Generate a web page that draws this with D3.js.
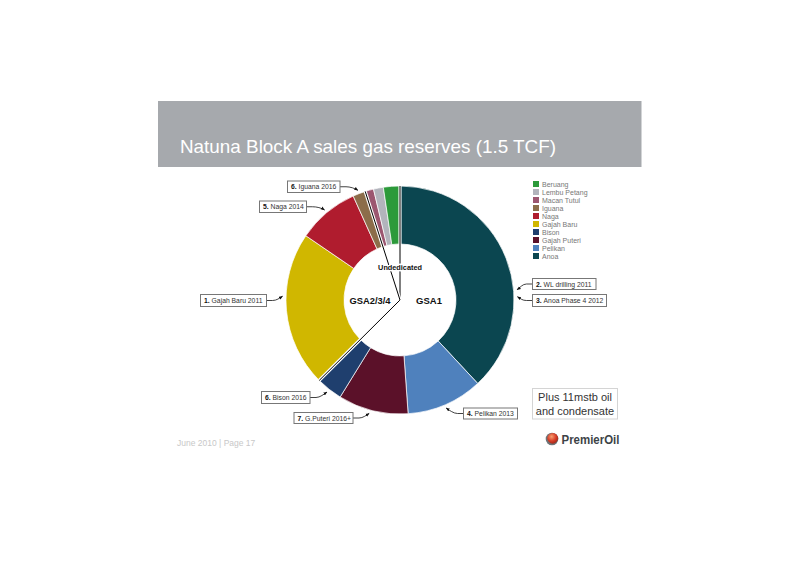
<!DOCTYPE html>
<html><head><meta charset="utf-8">
<script src="https://cdn.jsdelivr.net/npm/d3@7"></script>
<style>body{margin:0;background:#fff;}svg{display:block;font-family:Arial,"Liberation Sans",sans-serif;}</style>
</head><body>
<svg id="c" width="800" height="565"></svg>
<script>
// ---- data (bcf; total ≈ 1.5 TCF) ----
const fields = ["Anoa","Pelikan","Gajah Puteri","Bison","Gajah Baru","Naga","Iguana","Macan Tutul","Lembu Petang","Beruang"];
const reserves = [571, 162, 149, 56, 330, 131, 27, 18, 21, 35];
const fieldColors = ["#0b4650","#4f81bd","#5b1129","#1f3f6e","#d0b700","#b01c2e","#8c6d4a","#9c5670","#b2b4bc","#2c9a3a"];
const legendOrder = ["Beruang","Lembu Petang","Macan Tutul","Iguana","Naga","Gajah Baru","Bison","Gajah Puteri","Pelikan","Anoa"];
// contract groups: boundary after which field
const groupEnds = ["Bison","Iguana"];   // GSA1 ends after Bison, GSA2/3/4 after Iguana
// callouts: number, text, field, fraction along slice
const calloutNums = ["1.","2.","3.","4.","5.","6.","6.","7."];
const calloutTexts = ["Gajah Baru 2011","WL drilling 2011","Anoa Phase 4 2012","Pelikan 2013","Naga 2014","Iguana 2016","Bison 2016","G.Puteri 2016+"];
const calloutFields = ["Gajah Baru","Anoa","Anoa","Pelikan","Naga","Iguana","Bison","Gajah Puteri"];
const calloutFrac = [0.59,0.62,0.645,0.51,0.5,0.5,0.5,0.54];

// ---- layout ----
const svg = d3.select("#c");
const cx = 400, cy = 300, rOut = 114, rIn = 56;
// callout boxes: [x, y, w, h, side] side: 'r' = arrow leaves right edge, 'l' = left edge
const boxes = [
  [200.5,294.5,66,12,'r'],
  [532.5,278.5,63.5,11,'l'],
  [532.5,294.5,74,12,'l'],
  [463.5,408,54,11,'l'],
  [259.5,201,47,11.5,'r'],
  [287.5,181,52.5,11.5,'r'],
  [261.5,391.5,48.5,12,'r'],
  [294,412.5,59,11,'r']
];

// title band
svg.append("rect").attr("x",158).attr("y",101).attr("width",483.5).attr("height",66).attr("fill","#a6a9ad");
svg.append("text").attr("x",180).attr("y",152.5).attr("fill","#fff").attr("font-size",19)
  .attr("textLength",376).attr("lengthAdjust","spacingAndGlyphs")
  .text("Natuna Block A sales gas reserves (1.5 TCF)");

// donut
const color = d3.scaleOrdinal().domain(fields).range(fieldColors);
const data = fields.map((f,i)=>({field:f, value:reserves[i]}));
const pie = d3.pie().value(d=>d.value).sort(null);
const arcs = pie(data);
const arc = d3.arc().innerRadius(rIn).outerRadius(rOut);
const g = svg.append("g").attr("transform",`translate(${cx},${cy})`);
g.selectAll("path.slice").data(arcs).join("path").attr("class","slice")
  .attr("d",arc).attr("fill",d=>color(d.data.field))
  .attr("stroke","#fff").attr("stroke-width",0.7);

// group divider lines
const divAngles = [0].concat(groupEnds.map(f=>arcs.find(a=>a.data.field===f).endAngle));
const pt = (a,r)=>[Math.sin(a)*r, -Math.cos(a)*r];
divAngles.forEach(a=>{
  const [x2,y2] = pt(a,rOut);
  g.append("line").attr("x1",0).attr("y1",0).attr("x2",x2).attr("y2",y2).attr("stroke","#fff").attr("stroke-width",3.2);
  g.append("line").attr("x1",0).attr("y1",0).attr("x2",x2).attr("y2",y2).attr("stroke","#000").attr("stroke-width",1);
});

// hole labels
g.append("text").attr("x",0).attr("y",-30).attr("text-anchor","middle").attr("font-size",7.3).attr("font-weight","bold").attr("fill","#111")
  .attr("stroke","#fff").attr("stroke-width",2.5).attr("paint-order","stroke").text("Undedicated");
g.append("text").attr("x",-30).attr("y",3.5).attr("text-anchor","middle").attr("font-size",9.5).attr("font-weight","bold").attr("fill","#111")
  .attr("textLength",41).attr("lengthAdjust","spacingAndGlyphs").text("GSA2/3/4");
g.append("text").attr("x",29).attr("y",3.5).attr("text-anchor","middle").attr("font-size",9.5).attr("font-weight","bold").attr("fill","#111").text("GSA1");

// arrow marker
svg.append("defs").append("marker").attr("id","ah").attr("viewBox","0 0 10 10").attr("refX",9).attr("refY",5)
  .attr("markerWidth",5).attr("markerHeight",5).attr("orient","auto")
  .append("path").attr("d","M0,1 L10,5 L0,9 Z").attr("fill","#111");

// callouts
calloutTexts.forEach((t,i)=>{
  const a = arcs.find(d=>d.data.field===calloutFields[i]);
  const ang = a.startAngle + (a.endAngle-a.startAngle)*calloutFrac[i];
  const [tx,ty] = pt(ang, rOut+3.5);
  const tipX = cx+tx, tipY = cy+ty;
  const [bx,by,bw,bh,side] = boxes[i];
  const sx = side==='r' ? bx+bw : bx, sy = by+bh/2;
  const dir = side==='r' ? 1 : -1;
  const p = d3.path();
  p.moveTo(sx,sy);
  p.lineTo(sx+dir*6,sy);
  p.bezierCurveTo(sx+dir*10,sy,tipX-dir*3,tipY+ (tipY>sy?-2:2),tipX,tipY);
  svg.append("path").attr("d",p.toString()).attr("fill","none").attr("stroke","#111").attr("stroke-width",0.8).attr("marker-end","url(#ah)");
  svg.append("rect").attr("x",bx).attr("y",by).attr("width",bw).attr("height",bh).attr("fill","#fff").attr("stroke","#777").attr("stroke-width",1);
  const tt = svg.append("text").attr("x",bx+3.5).attr("y",by+bh/2+2.5).attr("font-size",6.8).attr("fill","#333");
  tt.append("tspan").attr("font-weight","bold").attr("fill","#111").text(calloutNums[i]+" ");
  tt.append("tspan").text(t);
});

// legend
const lg = svg.append("g").attr("transform","translate(533,181)");
legendOrder.forEach((f,i)=>{
  lg.append("rect").attr("x",0).attr("y",i*8).attr("width",6).attr("height",6).attr("fill",color(f));
  lg.append("text").attr("x",9).attr("y",i*8+5.5).attr("font-size",7).attr("fill","#777").text(f);
});

// note box
svg.append("rect").attr("x",532.5).attr("y",388.5).attr("width",85).attr("height",30.5).attr("fill","#fff").attr("stroke","#d4d4d4");
svg.append("text").attr("x",575).attr("y",401).attr("text-anchor","middle").attr("font-size",11).attr("fill","#333").text("Plus 11mstb oil");
svg.append("text").attr("x",575).attr("y",414.5).attr("text-anchor","middle").attr("font-size",11).attr("fill","#333").text("and condensate");

// footer
svg.append("text").attr("x",177).attr("y",446).attr("font-size",8.5).attr("fill","#c8c8c8").text("June 2010 | Page 17");

// logo
const rg = svg.append("defs").append("radialGradient").attr("id","lgc").attr("cx","40%").attr("cy","35%").attr("r","65%");
rg.append("stop").attr("offset","0%").attr("stop-color","#f7a070");
rg.append("stop").attr("offset","60%").attr("stop-color","#d9402a");
rg.append("stop").attr("offset","100%").attr("stop-color","#a52a1a");
svg.append("circle").attr("cx",552).attr("cy",439).attr("r",6.3).attr("fill","#6d7478");
svg.append("circle").attr("cx",552.7).attr("cy",438.3).attr("r",5.4).attr("fill","url(#lgc)");
svg.append("text").attr("x",561.5).attr("y",444).attr("font-size",13).attr("font-weight","bold").attr("fill","#3d4347")
  .attr("textLength",58).attr("lengthAdjust","spacingAndGlyphs").text("PremierOil");
</script>
</body></html>
